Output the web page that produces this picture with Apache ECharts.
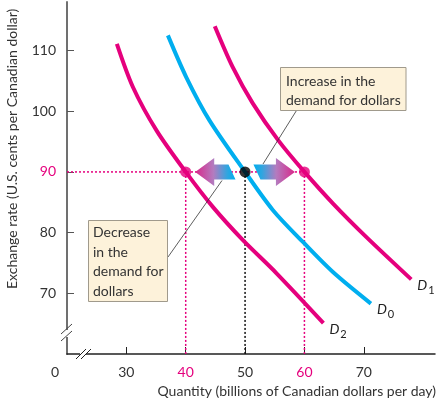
<!DOCTYPE html>
<html>
<head>
<meta charset="utf-8">
<script src="https://cdn.jsdelivr.net/npm/echarts@6/dist/echarts.min.js"></script>
<style>
  html, body { margin: 0; padding: 0; background: #fff; }
  #main { width: 437px; height: 399px; }
</style>
</head>
<body>
<div id="main"></div>
<script>
// demand curves (quantity, exchange rate)
var d0Qty  = [37.0, 40.1, 44.0, 50, 54.7, 59.7, 64.8, 71.2];
var d0Rate = [112.5, 105.6, 98.5, 90, 83.7, 78.5, 73.5, 68.3];
var d1Qty  = [44.9, 47.9, 51.3, 55.6, 60, 64.9, 70.4, 78.0];
var d1Rate = [114.0, 107.3, 101.3, 95.2, 90, 84.7, 79.3, 72.3];
var d2Qty  = [28.4, 31.1, 35.1, 40, 44.6, 49.6, 55.3, 63.2];
var d2Rate = [111.1, 104.0, 96.8, 90, 84.2, 78.8, 73.3, 65.1];

var xTicks = [30, 40, 50, 60, 70];
var yTicks = [70, 80, 90, 100, 110];
var eqQty = [40, 50, 60];
var eqRate = 90;

// arrows: [tip, tail, rate]
var arrows = [[41.6, 47.8, 90], [58.4, 52.0, 90]];

var MAGENTA = '#e5007d';
var CYAN = '#00aeef';
var FONT = 'Lato';

function pairs(xs, ys) {
  var out = [];
  for (var i = 0; i < xs.length; i++) out.push([xs[i], ys[i]]);
  return out;
}

function curve(name, xs, ys, color, sub) {
  return {
    name: name,
    type: 'line',
    smooth: 0.3,
    showSymbol: false,
    data: pairs(xs, ys),
    lineStyle: { color: color, width: 4 },
    z: 3,
    endLabel: {
      show: true,
      distance: 6,
      offset: [0, 6],
      formatter: '{d|D}{s|' + sub + '}',
      rich: {
        d: { fontFamily: FONT, fontStyle: 'italic', fontSize: 14, color: '#222' },
        s: { fontFamily: FONT, fontSize: 11, color: '#222', padding: [10, 0, 0, 1] }
      }
    }
  };
}

var myChart = echarts.init(document.getElementById('main'));

var option = {
  animation: false,
  grid: { left: 67, right: 2, top: 2, bottom: 45 },
  xAxis: {
    type: 'value',
    min: 20,
    max: 82,
    axisLine: { lineStyle: { color: '#222', width: 1.5 } },
    axisTick: { inside: true, length: 7, customValues: xTicks, lineStyle: { color: '#222' } },
    axisLabel: {
      customValues: xTicks,
      margin: 11,
      fontFamily: FONT,
      fontSize: 14,
      color: function (v) { return (v == 40 || v == 60) ? MAGENTA : '#333'; }
    },
    splitLine: { show: false }
  },
  yAxis: {
    type: 'value',
    min: 60,
    max: 118,
    axisLine: { show: true, lineStyle: { color: '#707070', width: 2 } },
    axisTick: { show: true, inside: true, length: 7, customValues: yTicks, lineStyle: { color: '#555' } },
    axisLabel: {
      customValues: yTicks,
      margin: 11,
      fontFamily: FONT,
      fontSize: 14,
      color: function (v) { return v == 90 ? MAGENTA : '#333'; }
    },
    splitLine: { show: false }
  },
  series: [
    // guide lines
    { type: 'line', showSymbol: false, silent: true, z: 1,
      data: [[20, eqRate], [eqQty[2], eqRate]],
      lineStyle: { color: MAGENTA, width: 1.5, type: [2, 2] } },
    { type: 'line', showSymbol: false, silent: true, z: 1,
      data: [[eqQty[0], eqRate], [eqQty[0], 60]],
      lineStyle: { color: MAGENTA, width: 1.5, type: [2, 2] } },
    { type: 'line', showSymbol: false, silent: true, z: 1,
      data: [[eqQty[2], eqRate], [eqQty[2], 60]],
      lineStyle: { color: MAGENTA, width: 1.5, type: [2, 2] } },
    { type: 'line', showSymbol: false, silent: true, z: 1,
      data: [[eqQty[1], eqRate], [eqQty[1], 60]],
      lineStyle: { color: '#111', width: 1.5, type: [2, 2] } },
    curve('D1', d1Qty, d1Rate, MAGENTA, '1'),
    curve('D0', d0Qty, d0Rate, CYAN, '0'),
    curve('D2', d2Qty, d2Rate, MAGENTA, '2'),
    {
      type: 'custom',
      z: 4,
      data: arrows,
      renderItem: function (params, api) {
        var tip = api.coord([api.value(0), api.value(2)]);
        var tail = api.coord([api.value(1), api.value(2)]);
        var dir = tip[0] < tail[0] ? -1 : 1;
        var y = tip[1], hl = 19, hh = 14, bh = 7.5, sl = 3.5;
        var base = tip[0] - dir * hl;
        var pts = [
          [tip[0], y], [base, y - hh], [base, y - bh],
          [tail[0] - sl, y - bh], [tail[0] + sl, y + bh],
          [base, y + bh], [base, y + hh]
        ];
        if (dir > 0) pts = [
          [tip[0], y], [base, y + hh], [base, y + bh],
          [tail[0] + sl, y + bh], [tail[0] - sl, y - bh],
          [base, y - bh], [base, y - hh]
        ];
        var stops = [
          { offset: 0, color: '#d8288a' },
          { offset: 0.45, color: '#b47bbf' },
          { offset: 0.8, color: '#2ea6e0' },
          { offset: 1, color: '#00aeef' }
        ];
        if (dir > 0) stops = [
          { offset: 0, color: '#00aeef' },
          { offset: 0.2, color: '#2ea6e0' },
          { offset: 0.55, color: '#b47bbf' },
          { offset: 1, color: '#d8288a' }
        ];
        return {
          type: 'polygon',
          shape: { points: pts },
          style: { fill: new echarts.graphic.LinearGradient(0, 0, 1, 0, stops) }
        };
      }
    },
    { type: 'scatter', z: 5, symbolSize: 11,
      data: [[eqQty[0], eqRate], [eqQty[2], eqRate]],
      itemStyle: { color: MAGENTA } },
    { type: 'scatter', z: 5, symbolSize: 11,
      data: [[eqQty[1], eqRate]],
      itemStyle: { color: '#000' } }
  ],
  graphic: [
    { type: 'text', x: 12, y: 289, rotation: Math.PI / 2,
      style: { text: 'Exchange rate (U.S. cents per Canadian dollar)', fontFamily: FONT, fontSize: 14,
               fill: '#333', align: 'left', verticalAlign: 'middle' } },
    { type: 'text', x: 436, y: 391,
      style: { text: 'Quantity (billions of Canadian dollars per day)', fontFamily: FONT, fontSize: 14,
               fill: '#333', align: 'right', verticalAlign: 'middle' } },
    { type: 'text', x: 55, y: 372,
      style: { text: '0', fontFamily: FONT, fontSize: 14, fill: '#333', align: 'center', verticalAlign: 'middle' } },
    // axis breaks
    { type: 'rect', shape: { x: 63, y: 330, width: 8, height: 7 }, style: { fill: '#fff' }, z: 10 },
    { type: 'line', shape: { x1: 61, y1: 334, x2: 72, y2: 324 }, style: { stroke: '#444', lineWidth: 1 }, z: 11 },
    { type: 'line', shape: { x1: 61, y1: 341, x2: 72, y2: 331 }, style: { stroke: '#444', lineWidth: 1 }, z: 11 },
    { type: 'rect', shape: { x: 80, y: 352, width: 6, height: 4 }, style: { fill: '#fff' }, z: 10 },
    { type: 'line', shape: { x1: 76, y1: 359, x2: 86, y2: 349 }, style: { stroke: '#222', lineWidth: 1 }, z: 11 },
    { type: 'line', shape: { x1: 81, y1: 359, x2: 91, y2: 349 }, style: { stroke: '#222', lineWidth: 1 }, z: 11 },
    // leader lines
    { type: 'line', shape: { x1: 296.5, y1: 110.5, x2: 263, y2: 164 }, style: { stroke: '#333', lineWidth: 0.8 }, z: 6 },
    { type: 'line', shape: { x1: 168, y1: 257, x2: 222, y2: 180.5 }, style: { stroke: '#333', lineWidth: 0.8 }, z: 6 },
    // callout boxes
    { type: 'rect', shape: { x: 280.5, y: 67.5, width: 125.5, height: 43 },
      style: { fill: '#fdf2da', stroke: '#a09a8c', lineWidth: 1 }, z: 7 },
    { type: 'text', x: 286, y: 91, z: 8,
      style: { text: 'Increase in the\ndemand for dollars', fontFamily: FONT, fontSize: 14, lineHeight: 19,
               fill: '#333', verticalAlign: 'middle' } },
    { type: 'rect', shape: { x: 88.5, y: 220.5, width: 79, height: 81 },
      style: { fill: '#fdf2da', stroke: '#a09a8c', lineWidth: 1 }, z: 7 },
    { type: 'text', x: 93, y: 262, z: 8,
      style: { text: 'Decrease\nin the\ndemand for\ndollars', fontFamily: FONT, fontSize: 14, lineHeight: 19.7,
               fill: '#333', verticalAlign: 'middle' } }
  ]
};

myChart.setOption(option);
</script>
</body>
</html>
